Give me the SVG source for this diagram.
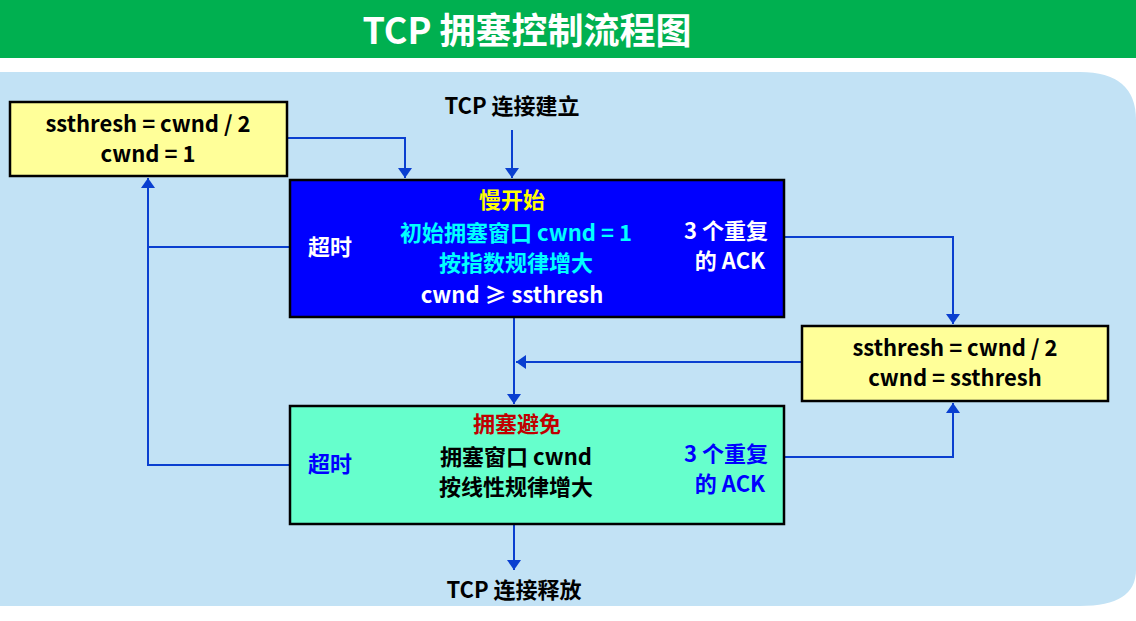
<svg xmlns="http://www.w3.org/2000/svg" width="1136" height="621" viewBox="0 0 1136 621">
<style>
text{font-family:"Noto Sans CJK SC","Noto Sans",sans-serif;font-weight:bold;text-anchor:middle}
.t{font-size:22px;fill:#000}
.c{fill:none;stroke:#0a3fd0;stroke-width:2}
.box{stroke:#000;stroke-width:2.5}
</style>
<defs>
<marker id="a" markerWidth="10" markerHeight="14" refX="10" refY="7" orient="auto" markerUnits="userSpaceOnUse">
<path d="M0,0 L10,7 L0,14 Z" fill="#0a3fd0"/>
</marker>
</defs>
<rect width="1136" height="621" fill="#fff"/>
<rect width="1136" height="58" fill="#00b050"/>
<text x="527" y="44" font-size="36" fill="#fff">TCP 拥塞控制流程图</text>
<path d="M0,72 H1080 Q1136,72 1136,120 V570 Q1136,606 1080,606 H0 Z" fill="#c2e2f5"/>
<g id="connectors" class="c">
<path d="M287,138 H405 V178" marker-end="url(#a)"/>
<path d="M512,130 V178" marker-end="url(#a)"/>
<path d="M290,247 H148"/>
<path d="M290,465 H148 V178" marker-end="url(#a)"/>
<path d="M784,237 H953 V324" marker-end="url(#a)"/>
<path d="M802,362 H516" marker-end="url(#a)"/>
<path d="M514,317 V404" marker-end="url(#a)"/>
<path d="M784,457 H953 V403" marker-end="url(#a)"/>
<path d="M514,524 V570" marker-end="url(#a)"/>
</g>
<g id="start"><text class="t" x="512" y="114">TCP 连接建立</text></g>
<g id="end"><text class="t" x="514" y="598">TCP 连接释放</text></g>
<g id="reset">
<rect class="box" x="10" y="102" width="277" height="74" fill="#ffff99"/>
<text class="t" x="148" y="132">ssthresh = cwnd / 2</text>
<text class="t" x="148" y="162">cwnd = 1</text>
</g>
<g id="slowstart">
<rect class="box" x="290" y="180" width="494" height="137" fill="#0000ff"/>
<text x="512" y="208" font-size="22" fill="#ffff00">慢开始</text>
<text x="330" y="255" font-size="22" fill="#fff">超时</text>
<text x="516" y="241" font-size="22" fill="#00ffff">初始拥塞窗口 cwnd = 1</text>
<text x="516" y="271" font-size="22" fill="#00ffff">按指数规律增大</text>
<text x="512" y="303" font-size="22" fill="#fff">cwnd ≥ ssthresh</text>
<text x="726" y="239" font-size="22" fill="#fff">3 个重复</text>
<text x="730" y="269" font-size="22" fill="#fff">的 ACK</text>
</g>
<g id="fastrec">
<rect class="box" x="802" y="326" width="306" height="75" fill="#ffff99"/>
<text class="t" x="955" y="356">ssthresh = cwnd / 2</text>
<text class="t" x="955" y="386">cwnd = ssthresh</text>
</g>
<g id="avoid">
<rect class="box" x="290" y="406" width="494" height="118" fill="#66ffcc"/>
<text x="517" y="432" font-size="22" fill="#c00000">拥塞避免</text>
<text x="330" y="472" font-size="22" fill="#0000ff">超时</text>
<text class="t" x="516" y="465">拥塞窗口 cwnd</text>
<text class="t" x="516" y="495">按线性规律增大</text>
<text x="726" y="462" font-size="22" fill="#0000ff">3 个重复</text>
<text x="730" y="492" font-size="22" fill="#0000ff">的 ACK</text>
</g>
</svg>
